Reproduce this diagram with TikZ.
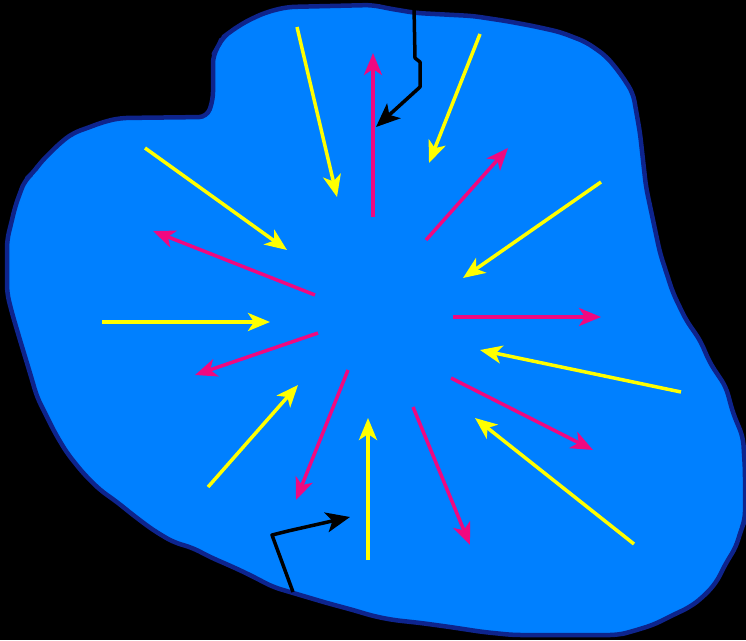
\documentclass[tikz,border=0pt]{standalone}
\usepackage{tikz}
\usetikzlibrary{arrows.meta}
\usepackage{xcolor}
\definecolor{blobfill}{RGB}{0,128,255}
\definecolor{blobedge}{RGB}{14,36,140}
\definecolor{arryellow}{RGB}{255,255,0}
\definecolor{arrpink}{RGB}{240,8,128}

\begin{document}
\begin{tikzpicture}[x=1pt, y=-1pt,
    blob/.style={fill=blobfill, draw=blobedge, line width=4.5pt, line join=round, rounded corners=8pt},
    inarrow/.style={draw=arryellow, line width=3.5pt, -{Stealth[length=22pt,width=18pt,inset=6pt]}},
    outarrow/.style={draw=arrpink, line width=3.5pt, -{Stealth[length=22pt,width=18pt,inset=6pt]}},
    hintarrow/.style={draw=black, line width=3.5pt, line join=round, -{Stealth[length=24pt,width=20pt,inset=6pt]}},
]
\fill[black] (0,0) rectangle (746,640);
\useasboundingbox (0,0) rectangle (746,640);

% blob outline
\draw[blob] (287,7) -- (373,5) -- (386,8) -- (416,13) -- (473,16) -- (506,21) -- (533,26)
  -- (560,32) -- (586,42) -- (606,56) -- (620,73) -- (633,93) -- (640,133) -- (646,187)
  -- (660,253) -- (673,293) -- (686,320) -- (700,340) -- (710,363) -- (726,387) -- (733,413)
  -- (743,437) -- (745,470) -- (745,520) -- (741,530) -- (736,547) -- (726,563) -- (716,583)
  -- (703,597) -- (690,607) -- (673,615) -- (653,625) -- (630,632) -- (618,635) -- (513,635)
  -- (483,632) -- (450,627) -- (421,623) -- (393,620) -- (373,616) -- (353,610) -- (327,603)
  -- (300,595) -- (273,587) -- (250,575) -- (233,567) -- (210,557) -- (193,548) -- (173,542)
  -- (153,530) -- (133,515) -- (117,502) -- (100,490) -- (83,473) -- (67,453) -- (55,433)
  -- (47,417) -- (37,397) -- (30,373) -- (23,350) -- (17,330) -- (12,313) -- (7,293)
  -- (7,240) -- (12,220) -- (15,207) -- (20,193) -- (25,180) -- (33,173) -- (40,163)
  -- (50,153) -- (60,143) -- (73,133) -- (90,127) -- (103,122) -- (120,118) -- (207,117)
  -- (213,100) -- (213,55) -- (218,47) -- (222,38) -- (230,32) -- (240,25) -- (253,18)
  -- (267,12) -- cycle;

% inward arrows
\foreach \sx/\sy/\ex/\ey in {297/27/337/197, 145/148/287/250, 102/322/270/322,
    208/487/298/385, 368/560/368/418, 634/544/475/418, 681/392/480/350,
    601/182/463/278, 480/34/429/163}
  \draw[inarrow] (\sx,\sy) -- (\ex,\ey);

% outward arrows
\foreach \sx/\sy/\ex/\ey in {373/217/373/53, 426/240/508/148, 453/317/601/317,
    451/378/593/450, 413/407/470/545, 348/370/296/500, 318/333/195/375,
    315/295/153/231}
  \draw[outarrow] (\sx,\sy) -- (\ex,\ey);

% black arrows
\draw[hintarrow] (414,7) -- (415,58) -- (420,62) -- (420,87) -- (376,127);
\draw[hintarrow] (293,592) -- (272,535) -- (288,531) -- (350,517);
\end{tikzpicture}
\end{document}
